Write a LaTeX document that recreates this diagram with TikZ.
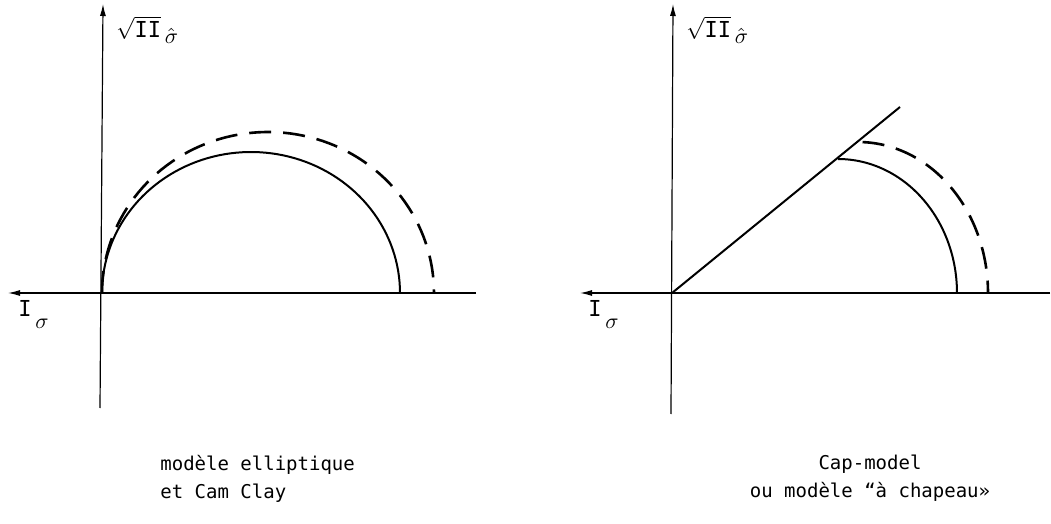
\documentclass[tikz,border=0pt]{standalone}
\usepackage{fontspec}
\setmainfont{DejaVu Sans Mono}
\usetikzlibrary{arrows.meta}
\begin{document}
\begin{tikzpicture}[x=0.5pt,y=-0.5pt,
  axis/.style={line width=0.6pt,-{Latex[length=6pt,width=3pt]}},
  curve/.style={line width=1pt},
  dcurve/.style={line width=1.3pt,dash pattern=on 11pt off 6pt},
  lbl/.style={font=\fontsize{11}{13}\selectfont,inner sep=0pt},
  captext/.style={font=\fontsize{9.5}{14}\selectfont,inner sep=0pt,align=left}]
\useasboundingbox (0,0) rectangle (1051,524);
% left panel
\coordinate (Lo) at (102,293);
\draw[axis] (100,408) -- (103,4);
\draw[axis] (476,293) -- (8,293);
\draw[curve] plot[domain=180:0,samples=80] ({251+149*cos(\x)},{293-141*sin(\x)});
\draw[dcurve] plot[domain=180:0,samples=80] ({268+166*cos(\x)},{293-161*sin(\x)});
\node[lbl,anchor=north west] (LY) at (116,16) {$\sqrt{\textrm{II}}\,\raisebox{-3pt}{$\hat{\sigma}$}$};
\node[lbl,anchor=west] (LX) at (18,314) {I\,\raisebox{-6pt}{$\sigma$}};
\node[captext,anchor=north west] (LC) at (160,455) {mod\`ele elliptique\\ et Cam Clay};
% right panel
\coordinate (Ro) at (672,293);
\coordinate (Rt) at (900,107);
\draw[axis] (671,414) -- (673,4);
\draw[axis] (1050,293) -- (580,293);
\draw[curve] (Ro) -- (Rt);
\draw[curve] plot[domain=90:0,samples=60] ({838+119*cos(\x)},{293-134*sin(\x)});
\draw[dcurve] plot[domain=88:0,samples=60] ({858+130*cos(\x)},{293-151*sin(\x)});
\node[lbl,anchor=north west] (RY) at (686,16) {$\sqrt{\textrm{II}}\,\raisebox{-3pt}{$\hat{\sigma}$}$};
\node[lbl,anchor=west] (RX) at (588,314) {I\,\raisebox{-6pt}{$\sigma$}};
\node[captext,align=center,anchor=north] (RC) at (870,455) {Cap-model\\ ou mod\`ele “\`a chapeau»};
\end{tikzpicture}
\end{document}
